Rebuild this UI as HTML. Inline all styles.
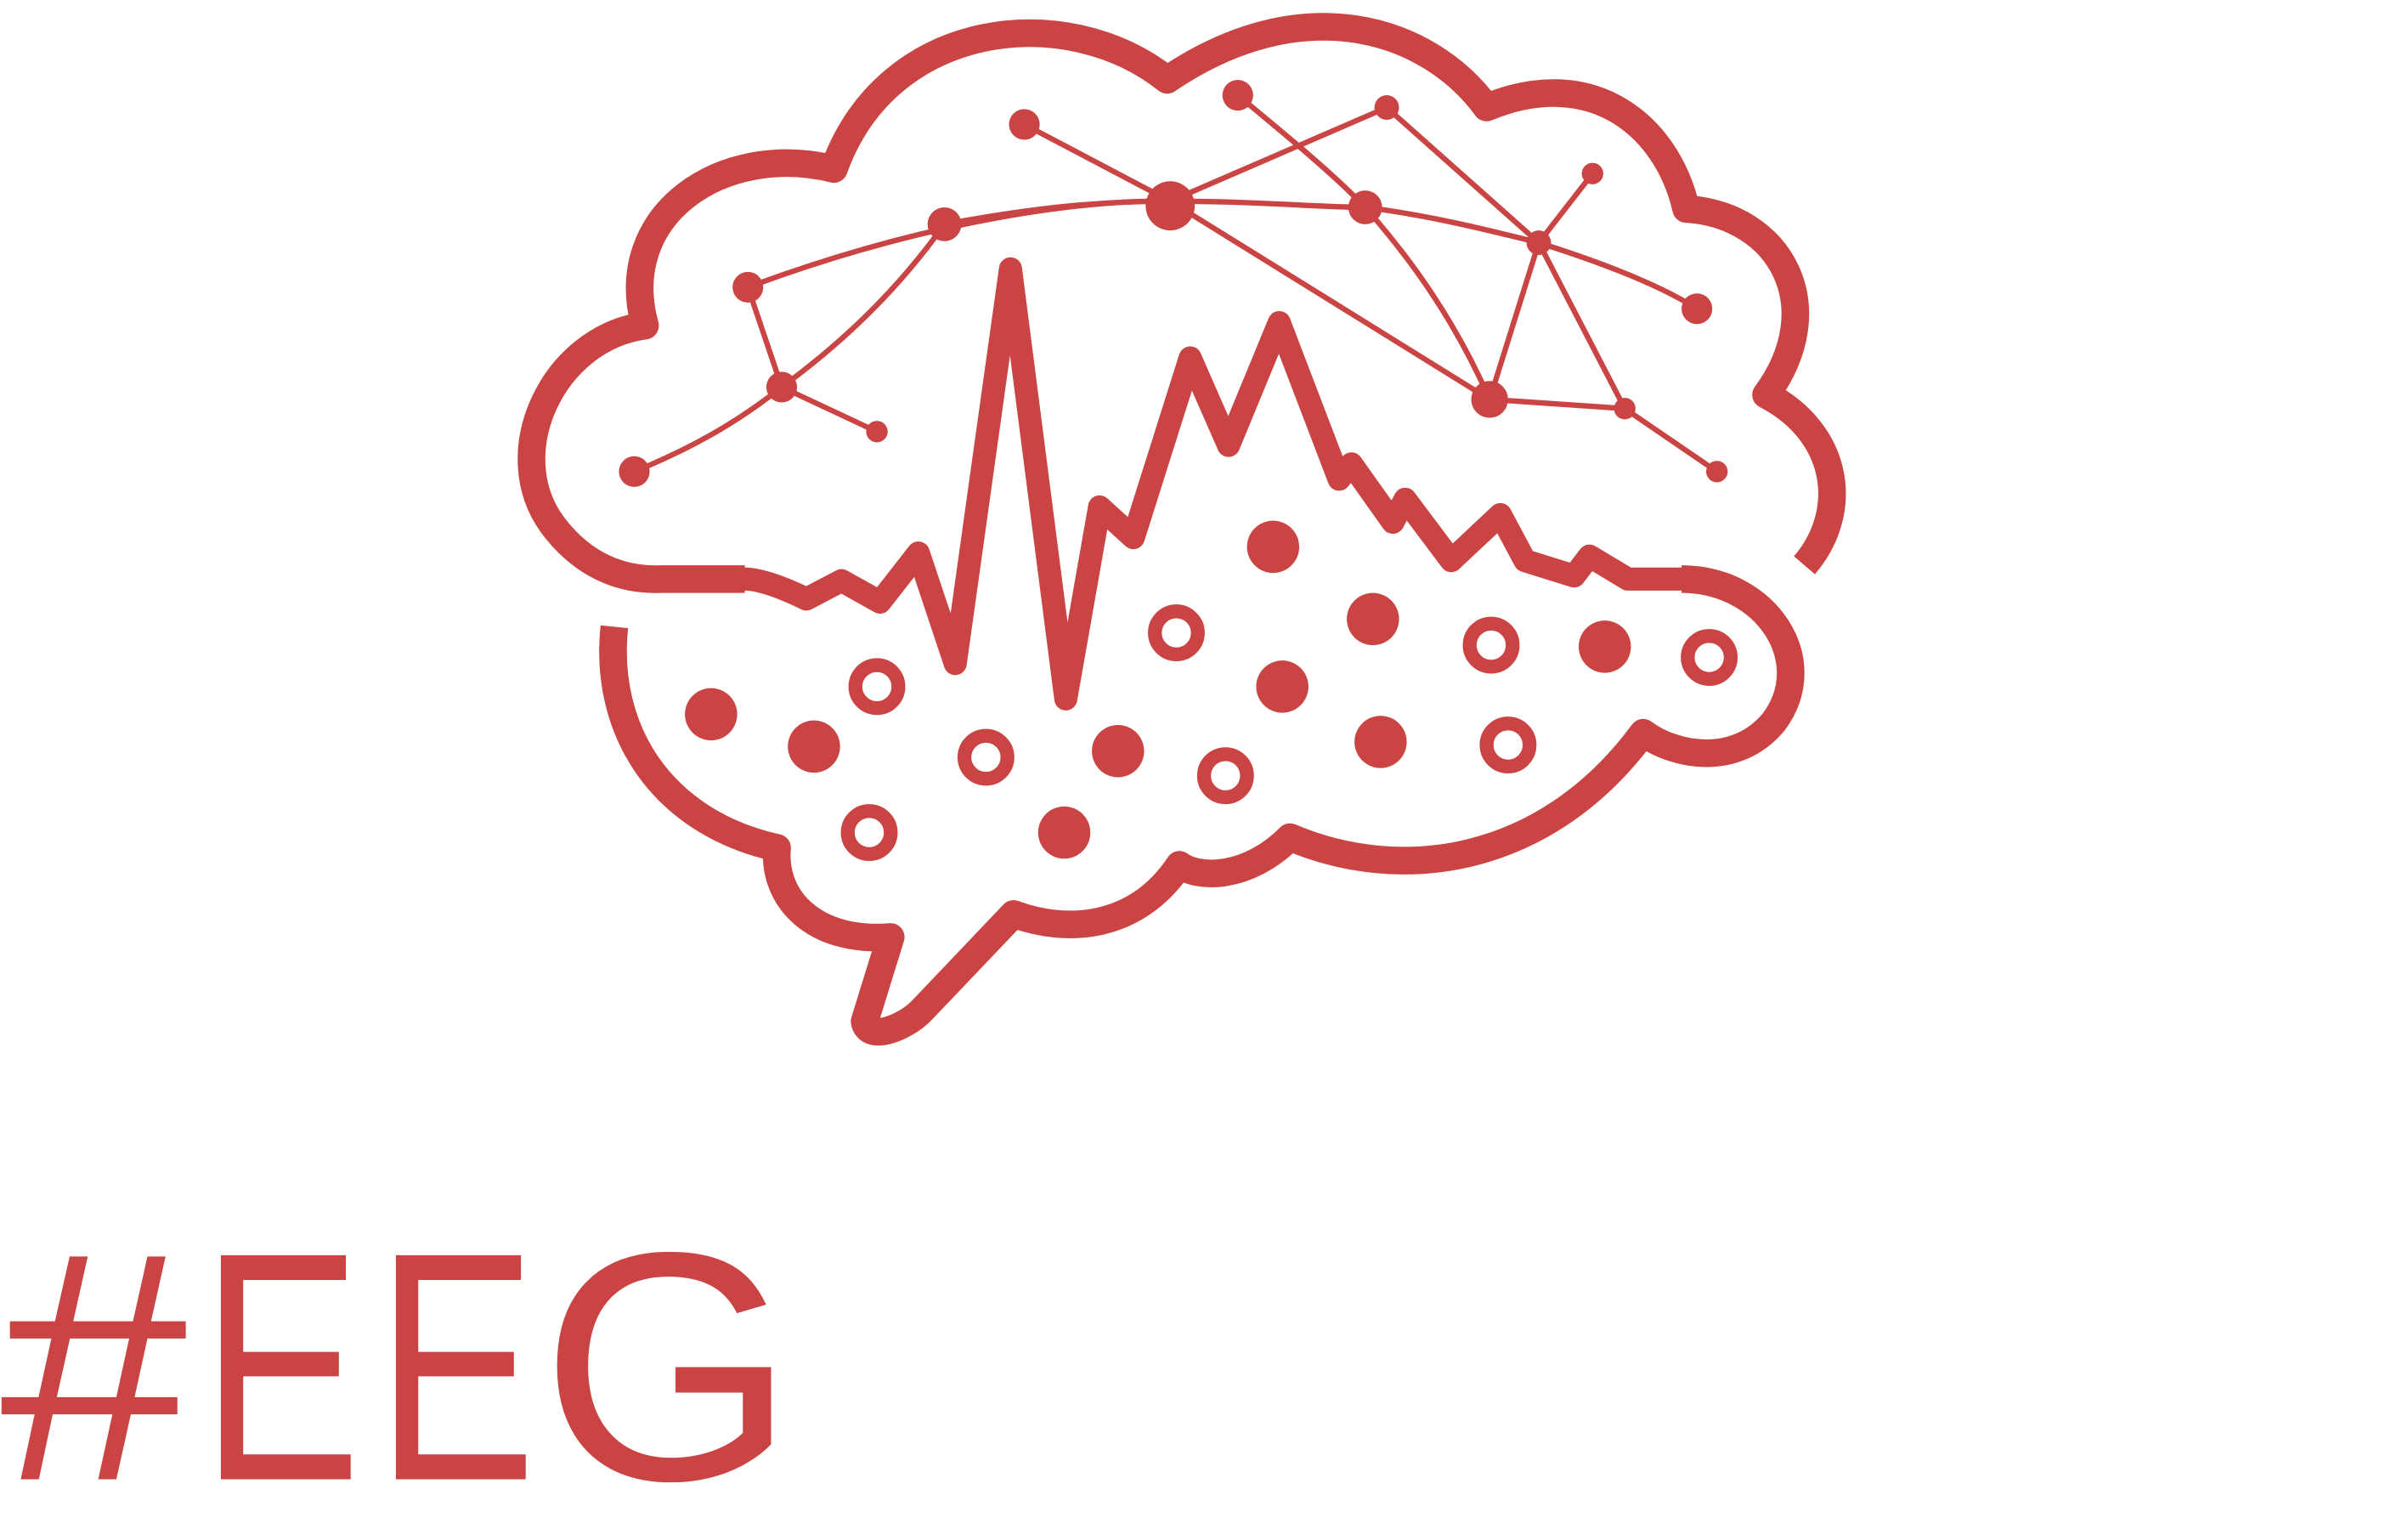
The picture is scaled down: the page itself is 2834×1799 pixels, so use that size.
<!DOCTYPE html>
<html><head><meta charset="utf-8"><style>
html,body{margin:0;padding:0;background:#fff;}
svg{display:block;}
</style></head><body>
<svg width="2834" height="1799" viewBox="0 0 1568 995.4" xmlns="http://www.w3.org/2000/svg">
<g fill="none" stroke="#CB4444" stroke-linecap="round" stroke-linejoin="round">
 <path stroke-width="18" stroke-linecap="butt" d="M1175,368 C1205,333 1198,282 1150,257 C1192,200 1160,140 1098,136 C1085,80 1035,42 968,70 C930,18 848,-8 760,52 C695,0 578,12 543,110 C470,92 400,140 420,212 C360,220 325,295 360,342 C378,366 402,378 430,377 L485,377"/>
 <path stroke-width="15" d="M485,377 C500,377 525,390 525,390 L548,378 L573,392 L598,360 L622,432 L658,175 L694,455 L716,330 L738,350 L775,233 L800,290 L833,210 L872,312 L880,302 L907,340 L915,325 L945,365 L977,335 L993,365 L1025,375 L1035,362 L1060,377 L1095,377"/>
 <path stroke-width="18" stroke-linecap="butt" d="M1095,377 C1150,377 1185,430 1155,470 C1130,500 1090,492 1070,477 C1005,565 910,575 840,545 C812,573 780,572 768,563 C740,605 695,608 660,595 L600,658 C588,670 565,678 563,665 L580,610 C530,614 503,585 506,552 C430,535 393,475 400,408"/>
 <g stroke-width="3.5">
  <path d="M413,307 C450,292 480,275 509,252"/>
  <path d="M509,252 L487,187"/>
  <path d="M509,252 L571,281"/>
  <path d="M509,252 C550,222 585,188 615,146"/>
  <path d="M487,187 C600,145 700,130 762,131 C820,131 860,135 889,135 C930,140 970,150 1002,158 C1040,170 1080,185 1105,201"/>
  <path d="M615,146 C680,134 720,131 762,131"/>
  <path d="M667,81 L762,131"/>
  <path d="M762,131 L970,260"/>
  <path d="M806,62 C840,90 870,115 889,135 C920,170 948,210 970,260"/>
  <path d="M903,70 L762,131"/>
  <path d="M903,70 L1002,158"/>
  <path d="M1002,158 L1037,113"/>
  <path d="M1002,158 L970,260"/>
  <path d="M1002,158 L1058,266"/>
  <path d="M970,260 L1058,266"/>
  <path d="M1058,266 L1118,307"/>
 </g>
</g>
<g fill="#CB4444">
 <circle cx="413" cy="307" r="10"/><circle cx="509" cy="252" r="10"/><circle cx="487" cy="187" r="10"/>
 <circle cx="615" cy="146" r="11"/><circle cx="667" cy="81" r="10"/><circle cx="762" cy="134" r="16"/>
 <circle cx="806" cy="62" r="10"/><circle cx="889" cy="135" r="11"/><circle cx="903" cy="70" r="8"/>
 <circle cx="1002" cy="158" r="8"/><circle cx="1037" cy="113" r="7"/><circle cx="1105" cy="201" r="10"/>
 <circle cx="970" cy="260" r="12"/><circle cx="1058" cy="266" r="7"/><circle cx="1118" cy="307" r="7"/>
 <circle cx="571" cy="281" r="7"/>
</g>
<g fill="#CB4444">
 <circle cx="463" cy="465" r="17"/><circle cx="530" cy="486" r="17"/><circle cx="693" cy="542" r="17"/>
 <circle cx="728" cy="489" r="17"/><circle cx="829" cy="356" r="17"/><circle cx="835" cy="447" r="17"/>
 <circle cx="894" cy="403" r="17"/><circle cx="899" cy="483" r="17"/><circle cx="1045" cy="421" r="17"/>
</g>
<g fill="none" stroke="#CB4444" stroke-width="9">
 <circle cx="571" cy="447" r="14"/><circle cx="566" cy="542" r="14"/><circle cx="642" cy="493" r="14"/>
 <circle cx="766" cy="412" r="14"/><circle cx="798" cy="505" r="14"/><circle cx="971" cy="420" r="14"/>
 <circle cx="982" cy="485" r="14"/><circle cx="1113" cy="428" r="14"/>
</g>
<g font-family="Liberation Sans, sans-serif" font-size="212" fill="#CB4444">
 <text x="0" y="963" textLength="122" lengthAdjust="spacingAndGlyphs">#</text>
 <text x="131" y="963" textLength="104" lengthAdjust="spacingAndGlyphs">E</text>
 <text x="245" y="963" textLength="104" lengthAdjust="spacingAndGlyphs">E</text>
 <text x="352" y="963" textLength="166" lengthAdjust="spacingAndGlyphs">G</text>
</g>
</svg>
</body></html>
